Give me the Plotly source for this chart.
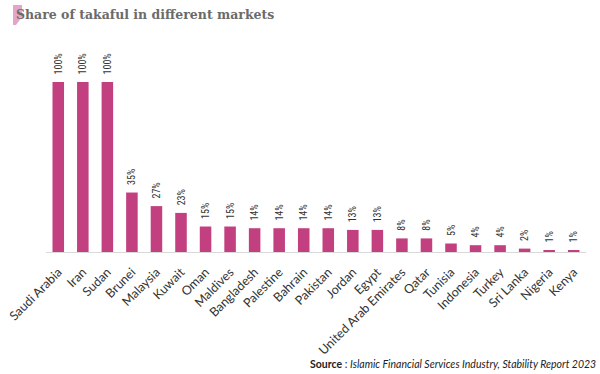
import plotly.graph_objects as go

countries = ["Saudi Arabia", "Iran", "Sudan", "Brunei", "Malaysia", "Kuwait", "Oman",
             "Maldives", "Bangladesh", "Palestine", "Bahrain", "Pakistan", "Jordan", "Egypt",
             "United Arab Emirates", "Qatar", "Tunisia", "Indonesia", "Turkey", "Sri Lanka",
             "Nigeria", "Kenya"]
shares = [100, 100, 100, 35, 27, 23, 15, 15, 14, 14, 14, 14, 13, 13, 8, 8, 5, 4, 4, 2, 1, 1]
labels = [f"\u00a0\u00a0{v}%" for v in shares]

BAR = "#c2407f"
W, H = 600, 374
L, R, T, B = 46, 14, 45, 122
PW, PH = W - L - R, H - T - B


def px(x, y):
    return (x - L) / PW, (H - B - y) / PH


pts = [px(13, 5), px(22, 5), px(22, 17), px(16, 25), px(13, 25)]
path = "M " + " L ".join(f"{a:.4f} {b:.4f}" for a, b in pts) + " Z"

fig = go.Figure(go.Bar(
    x=countries, y=shares, marker_color=BAR, marker_line_width=0,
    text=labels, textposition="outside", textangle=-90, cliponaxis=False,
    constraintext="none", hoverinfo="skip",
    textfont=dict(family="Roboto Condensed, Liberation Sans Narrow, Roboto", size=10, color="#333333"),
))

sx, sy = px(598, 364)
fig.update_layout(
    width=W, height=H,
    margin=dict(l=L, r=R, t=T, b=B, autoexpand=False),
    plot_bgcolor="white", paper_bgcolor="white",
    bargap=0.53, showlegend=False,
    xaxis=dict(tickangle=-45, showgrid=False, showline=True, linecolor="#d9d9d9", linewidth=1,
               ticks="outside", ticklen=7, tickcolor="rgba(0,0,0,0)", automargin=False,
               tickfont=dict(family="Lato, Noto Sans", size=12.5, color="#333333"),
               range=[-0.5, 21.5]),
    yaxis=dict(visible=False, range=[0, 121.8], showgrid=False, zeroline=False, automargin=False),
    title=dict(text="Share of takaful in different markets", x=16 / W, xref="container", xanchor="left",
               y=1 - 15 / H, yref="container", yanchor="middle", automargin=False,
               font=dict(family="DejaVu Serif", size=12.5, color="#6b6b6b", weight="bold")),
    shapes=[dict(type="path", xref="paper", yref="paper", layer="below",
                 path=path, fillcolor="#e3a6c8", line_width=0)],
    annotations=[dict(text="<b>Source</b> : <i>Islamic Financial Services Industry, Stability Report 2023</i>",
                      xref="paper", yref="paper", x=sx, y=sy,
                      xanchor="right", yanchor="middle", showarrow=False,
                      font=dict(family="Lato, Noto Sans", size=10.5, color="#222222"))],
)

fig.write_html("out.html", config={"displayModeBar": False},
               post_script="document.body.style.margin='0px';")
